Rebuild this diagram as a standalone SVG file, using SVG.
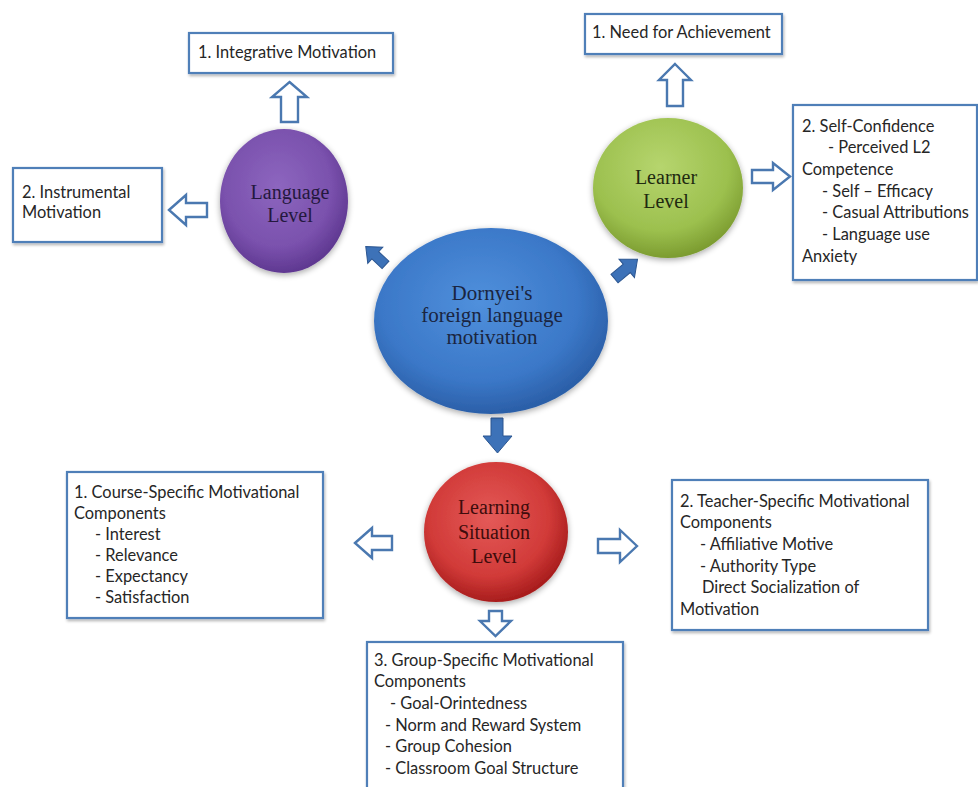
<svg xmlns="http://www.w3.org/2000/svg" width="978" height="787" viewBox="0 0 978 787">
<defs>
  <radialGradient id="gPurple" cx="0.45" cy="0.4" r="0.6">
    <stop offset="0" stop-color="#8d66bf"/>
    <stop offset="0.7" stop-color="#7a51ad"/>
    <stop offset="1" stop-color="#5f3891"/>
  </radialGradient>
  <radialGradient id="gBlue" cx="0.45" cy="0.4" r="0.6">
    <stop offset="0" stop-color="#5090dc"/>
    <stop offset="0.7" stop-color="#3b78c8"/>
    <stop offset="1" stop-color="#2b5fa8"/>
  </radialGradient>
  <radialGradient id="gGreen" cx="0.45" cy="0.35" r="0.65">
    <stop offset="0" stop-color="#b6d56e"/>
    <stop offset="0.7" stop-color="#9cc04e"/>
    <stop offset="1" stop-color="#7c9c30"/>
  </radialGradient>
  <radialGradient id="gRed" cx="0.45" cy="0.4" r="0.6">
    <stop offset="0" stop-color="#e45a58"/>
    <stop offset="0.7" stop-color="#d13a38"/>
    <stop offset="1" stop-color="#a81d1d"/>
  </radialGradient>
  <filter id="shadow" x="-20%" y="-20%" width="140%" height="140%">
    <feGaussianBlur in="SourceAlpha" stdDeviation="3"/>
    <feOffset dx="0" dy="2" result="b"/>
    <feComponentTransfer><feFuncA type="linear" slope="0.35"/></feComponentTransfer>
    <feMerge><feMergeNode/><feMergeNode in="SourceGraphic"/></feMerge>
  </filter>
  <filter id="bshadow" x="-10%" y="-10%" width="120%" height="130%">
    <feGaussianBlur in="SourceAlpha" stdDeviation="1.5"/>
    <feOffset dx="1" dy="2" result="b"/>
    <feComponentTransfer><feFuncA type="linear" slope="0.3"/></feComponentTransfer>
    <feMerge><feMergeNode/><feMergeNode in="SourceGraphic"/></feMerge>
  </filter>
</defs>
<style>
  .box { fill: #ffffff; stroke: #4f7fb8; stroke-width: 2.2; filter: url(#bshadow); }
  .bt { font-family: Lato, "Open Sans", "Liberation Sans", sans-serif; font-size: 16.4px; fill: #262626; }
  .ct { font-family: "Liberation Serif", "DejaVu Serif", serif; text-anchor: middle; }
  .hollow { fill: #ffffff; stroke: #4a78b0; stroke-width: 2.4; stroke-linejoin: miter; }
  .solid { fill: #3d72b8; stroke: #2b5590; stroke-width: 1; }
</style>
<rect width="978" height="787" fill="#ffffff"/>

<g id="connectors">
  <!-- solid arrows from the center -->
  <polygon class="solid" transform="translate(376,256) rotate(-137)" points="14,0 1,-11 1,-5 -13,-5 -13,5 1,5 1,11"/>
  <polygon class="solid" transform="translate(626,269) rotate(-40)" points="15,0 1,-12 1,-5.5 -15,-5.5 -15,5.5 1,5.5 1,12"/>
  <polygon class="solid" points="491,418 503,418 503,436 512,436 497.5,453 483,436 491,436"/>
  <!-- hollow arrows -->
  <polygon class="hollow" points="289.5,82 307,97 298,97 298,122 281,122 281,97 272,97"/>
  <polygon class="hollow" points="169,210 186,195 186,203 207,203 207,217 186,217 186,225"/>
  <polygon class="hollow" points="675,64 691,80 683,80 683,106 667,106 667,80 659,80"/>
  <polygon class="hollow" points="790,176.5 773,163 773,170 752,170 752,183 773,183 773,190"/>
  <polygon class="hollow" points="355,543 372,528 372,536 392,536 392,550 372,550 372,558"/>
  <polygon class="hollow" points="637,546 620,530 620,539 598,539 598,553 620,553 620,562"/>
  <polygon class="hollow" points="489,611 502,611 502,621 511,621 495.5,636 480,621 489,621"/>
</g>

<g id="center">
  <ellipse cx="491" cy="321" rx="117" ry="93" fill="url(#gBlue)" filter="url(#shadow)"/>
  <text class="ct" font-size="21" fill="#1a2540"><tspan x="492" y="300">Dornyei's</tspan><tspan x="492" y="322">foreign language</tspan><tspan x="492" y="344">motivation</tspan></text>
</g>

<g id="language-level">
  <ellipse cx="284" cy="201" rx="64" ry="72" fill="url(#gPurple)" filter="url(#shadow)"/>
  <text class="ct" font-size="20" fill="#24183e"><tspan x="290" y="199">Language</tspan><tspan x="290" y="222">Level</tspan></text>
</g>

<g id="learner-level">
  <ellipse cx="668" cy="188" rx="75" ry="70" fill="url(#gGreen)" filter="url(#shadow)"/>
  <text class="ct" font-size="20" fill="#1f2a10"><tspan x="666" y="184">Learner</tspan><tspan x="666" y="208">Level</tspan></text>
</g>

<g id="learning-situation-level">
  <ellipse cx="496" cy="532" rx="72" ry="70" fill="url(#gRed)" filter="url(#shadow)"/>
  <text class="ct" font-size="20" fill="#3e0c0c"><tspan x="494" y="514">Learning</tspan><tspan x="494" y="539">Situation</tspan><tspan x="494" y="563">Level</tspan></text>
</g>

<g id="integrative">
  <rect class="box" x="189" y="33" width="204" height="40"/>
  <text class="bt" x="198" y="58">1. Integrative Motivation</text>
</g>

<g id="instrumental">
  <rect class="box" x="13" y="168" width="149" height="74"/>
  <text class="bt"><tspan x="22" y="198">2. Instrumental</tspan><tspan x="22" y="218">Motivation</tspan></text>
</g>

<g id="need-achievement">
  <rect class="box" x="585" y="14" width="197" height="40"/>
  <text class="bt" x="592" y="38">1. Need for Achievement</text>
</g>

<g id="self-confidence">
  <rect class="box" x="793" y="105" width="184" height="175"/>
  <text class="bt"><tspan x="802" y="132">2. Self-Confidence</tspan><tspan x="828" y="153">- Perceived L2</tspan><tspan x="802" y="175">Competence</tspan><tspan x="822" y="197">- Self – Efficacy</tspan><tspan x="822" y="218">- Casual Attributions</tspan><tspan x="822" y="240">- Language use</tspan><tspan x="802" y="262">Anxiety</tspan></text>
</g>

<g id="course-specific">
  <rect class="box" x="67" y="472" width="256" height="146"/>
  <text class="bt"><tspan x="74" y="498">1. Course-Specific Motivational</tspan><tspan x="74" y="519">Components</tspan><tspan x="95" y="540">- Interest</tspan><tspan x="95" y="561">- Relevance</tspan><tspan x="95" y="582">- Expectancy</tspan><tspan x="95" y="603">- Satisfaction</tspan></text>
</g>

<g id="teacher-specific">
  <rect class="box" x="672" y="480" width="256" height="150"/>
  <text class="bt"><tspan x="680" y="507">2. Teacher-Specific Motivational</tspan><tspan x="680" y="528">Components</tspan><tspan x="700" y="550">- Affiliative Motive</tspan><tspan x="700" y="572">- Authority Type</tspan><tspan x="702" y="593">Direct Socialization of</tspan><tspan x="680" y="615">Motivation</tspan></text>
</g>

<g id="group-specific">
  <rect class="box" x="367" y="642" width="256" height="160"/>
  <text class="bt"><tspan x="374" y="666">3. Group-Specific Motivational</tspan><tspan x="374" y="687">Components</tspan><tspan x="390" y="709">- Goal-Orintedness</tspan><tspan x="385" y="731">- Norm and Reward System</tspan><tspan x="385" y="752">- Group Cohesion</tspan><tspan x="385" y="774">- Classroom Goal Structure</tspan></text>
</g>
</svg>
